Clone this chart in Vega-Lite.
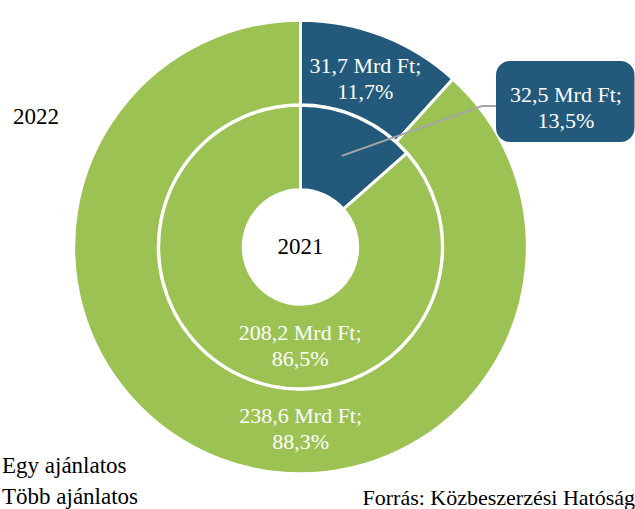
{
  "$schema": "https://vega.github.io/schema/vega-lite/v6.json",
  "width": 601,
  "height": 494,
  "autosize": "none",
  "padding": {"left": 0, "top": 0, "right": 34, "bottom": 15},
  "background": "white",
  "title": {
    "text": "Forrás: Közbeszerzési Hatóság",
    "orient": "bottom",
    "anchor": "end",
    "frame": "group",
    "font": "Liberation Serif",
    "fontSize": 22,
    "fontWeight": "normal",
    "color": "#000000",
    "baseline": "alphabetic",
    "offset": -4,
    "dx": 34
  },
  "datasets": {
    "slices": [
      {"year": "2022", "category": "Egy ajánlatos", "value": 31.7, "label": "31,7 Mrd Ft;\n11,7%"},
      {"year": "2022", "category": "Több ajánlatos", "value": 238.6, "label": "238,6 Mrd Ft;\n88,3%"},
      {"year": "2021", "category": "Egy ajánlatos", "value": 32.5, "label": "32,5 Mrd Ft;\n13,5%"},
      {"year": "2021", "category": "Több ajánlatos", "value": 208.2, "label": "208,2 Mrd Ft;\n86,5%"}
    ],
    "rings": [
      {"ring": "2022"},
      {"ring": "2021"}
    ]
  },
  "layer": [
    {
      "data": {"name": "slices"},
      "transform": [{"filter": "datum.year === '2022'"}],
      "mark": {"type": "arc", "radius": 226.8, "radius2": 142.2, "stroke": "white", "strokeWidth": 3},
      "encoding": {
        "theta": {"field": "value", "type": "quantitative", "stack": "normalize"},
        "order": {"field": "category", "type": "nominal", "sort": "ascending"},
        "color": {
          "field": "category", "type": "nominal",
          "scale": {"domain": ["Egy ajánlatos", "Több ajánlatos"], "range": ["#235A7B", "#9BC253"]},
          "legend": {
            "orient": "none", "legendX": -23, "legendY": 454, "title": null,
            "symbolSize": 0, "symbolOpacity": 0, "symbolStrokeWidth": 0,
            "labelFont": "Liberation Serif", "labelFontSize": 23, "labelColor": "#000000",
            "labelOffset": 2, "labelLimit": 0, "rowPadding": 7, "padding": 0
          }
        }
      }
    },
    {
      "data": {"name": "slices"},
      "transform": [{"filter": "datum.year === '2021'"}],
      "mark": {"type": "arc", "radius": 141.8, "radius2": 57.2, "stroke": "white", "strokeWidth": 3},
      "encoding": {
        "theta": {"field": "value", "type": "quantitative", "stack": "normalize"},
        "order": {"field": "category", "type": "nominal", "sort": "ascending"},
        "color": {"field": "category", "type": "nominal"}
      }
    },
    {
      "data": {"values": [{}]},
      "mark": {"type": "rule", "stroke": "#A6A6A6", "strokeWidth": 2},
      "encoding": {
        "x": {"datum": 41.2, "type": "quantitative", "scale": {"domain": [-300.5, 300.5], "nice": false, "zero": false}, "axis": null},
        "x2": {"datum": 181.5},
        "y": {"datum": 91.1, "type": "quantitative", "scale": {"domain": [-247, 247], "nice": false, "zero": false}, "axis": null},
        "y2": {"datum": 141}
      }
    },
    {
      "data": {"values": [{}]},
      "mark": {"type": "rule", "stroke": "#A6A6A6", "strokeWidth": 2},
      "encoding": {
        "x": {"datum": 181.5, "type": "quantitative", "scale": {"domain": [-300.5, 300.5], "nice": false, "zero": false}, "axis": null},
        "x2": {"datum": 196},
        "y": {"datum": 141, "type": "quantitative", "scale": {"domain": [-247, 247], "nice": false, "zero": false}, "axis": null},
        "y2": {"datum": 141}
      }
    },
    {
      "data": {"values": [{}]},
      "mark": {"type": "rect", "fill": "#235A7B", "cornerRadius": 14},
      "encoding": {
        "x": {"datum": 195.5, "type": "quantitative", "scale": {"domain": [-300.5, 300.5], "nice": false, "zero": false}, "axis": null},
        "x2": {"datum": 334},
        "y": {"datum": 186, "type": "quantitative", "scale": {"domain": [-247, 247], "nice": false, "zero": false}, "axis": null},
        "y2": {"datum": 105}
      }
    },
    {
      "data": {"name": "slices"},
      "transform": [{"filter": "datum.year === '2022'"}],
      "mark": {"type": "text", "radius": 180, "dy": -13.5, "font": "Liberation Serif", "fontSize": 22, "fill": "white", "align": "center", "baseline": "middle", "lineBreak": "\n", "lineHeight": 26},
      "encoding": {
        "theta": {"field": "value", "type": "quantitative", "stack": "normalize"},
        "order": {"field": "category", "type": "nominal", "sort": "ascending"},
        "detail": {"field": "category", "type": "nominal"},
        "text": {"condition": {"test": "datum.category === 'Egy ajánlatos'", "field": "label", "type": "nominal"}, "value": ""}
      }
    },
    {
      "data": {"name": "slices"},
      "transform": [{"filter": "datum.year === '2022'"}],
      "mark": {"type": "text", "radius": 180, "dx": 65, "dy": 1, "font": "Liberation Serif", "fontSize": 22, "fill": "white", "align": "center", "baseline": "middle", "lineBreak": "\n", "lineHeight": 26},
      "encoding": {
        "theta": {"field": "value", "type": "quantitative", "stack": "normalize"},
        "order": {"field": "category", "type": "nominal", "sort": "ascending"},
        "detail": {"field": "category", "type": "nominal"},
        "text": {"condition": {"test": "datum.category === 'Több ajánlatos'", "field": "label", "type": "nominal"}, "value": ""}
      }
    },
    {
      "data": {"name": "slices"},
      "transform": [{"filter": "datum.year === '2021'"}],
      "mark": {"type": "text", "radius": 100, "dx": 224.3, "dy": -61, "font": "Liberation Serif", "fontSize": 22, "fill": "white", "align": "center", "baseline": "middle", "lineBreak": "\n", "lineHeight": 26},
      "encoding": {
        "theta": {"field": "value", "type": "quantitative", "stack": "normalize"},
        "order": {"field": "category", "type": "nominal", "sort": "ascending"},
        "detail": {"field": "category", "type": "nominal"},
        "text": {"condition": {"test": "datum.category === 'Egy ajánlatos'", "field": "label", "type": "nominal"}, "value": ""}
      }
    },
    {
      "data": {"name": "slices"},
      "transform": [{"filter": "datum.year === '2021'"}],
      "mark": {"type": "text", "radius": 98, "dx": 40, "dy": -3.5, "font": "Liberation Serif", "fontSize": 22, "fill": "white", "align": "center", "baseline": "middle", "lineBreak": "\n", "lineHeight": 26},
      "encoding": {
        "theta": {"field": "value", "type": "quantitative", "stack": "normalize"},
        "order": {"field": "category", "type": "nominal", "sort": "ascending"},
        "detail": {"field": "category", "type": "nominal"},
        "text": {"condition": {"test": "datum.category === 'Több ajánlatos'", "field": "label", "type": "nominal"}, "value": ""}
      }
    },
    {
      "data": {"name": "rings"},
      "transform": [{"filter": "datum.ring === '2021'"}],
      "mark": {"type": "text", "font": "Liberation Serif", "fontSize": 23, "fill": "#000000", "align": "center", "baseline": "middle"},
      "encoding": {
        "theta": {"value": 0},
        "radius": {"value": 0},
        "text": {"field": "ring", "type": "nominal"}
      }
    },
    {
      "data": {"name": "rings"},
      "transform": [{"filter": "datum.ring === '2022'"}],
      "mark": {"type": "text", "font": "Liberation Serif", "fontSize": 23, "fill": "#000000", "align": "center", "baseline": "middle"},
      "encoding": {
        "theta": {"value": 5.168},
        "radius": {"value": 294.5},
        "text": {"field": "ring", "type": "nominal"}
      }
    }
  ],
  "config": {
    "view": {"stroke": null}
  }
}
